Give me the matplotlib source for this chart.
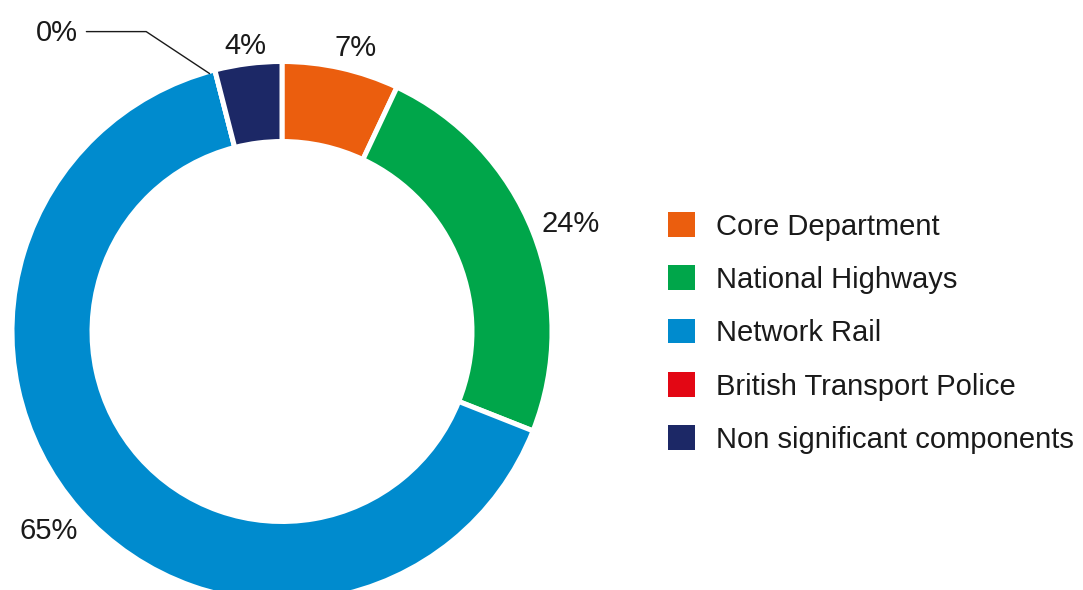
import matplotlib
matplotlib.use("Agg")
import matplotlib.pyplot as plt
from matplotlib.patches import Patch
import numpy as np

categories = ["Core Department", "National Highways", "Network Rail",
              "British Transport Police", "Non significant components"]
values = [7, 24, 65, 0, 4]
colors = ["#EB5E0E", "#00A64A", "#008BCE", "#E30714", "#1C2866"]

plt.rcParams['font.family'] = ['Liberation Sans', 'DejaVu Sans']
W, H = 1083, 590
fig = plt.figure(figsize=(W / 100, H / 100), dpi=100)
ax = fig.add_axes([0, 0, 1, 1])

cx, cy = 282, H - 331.5
R = 270
ring = 80
TXT = "#1a1a1a"

wedges, _, autotexts = ax.pie(
    values, colors=colors, startangle=90, counterclock=False,
    center=(cx, cy), radius=R,
    wedgeprops=dict(width=ring, edgecolor="white", linewidth=3.6),
    autopct=lambda p: f"{p:.0f}%" if p > 0.05 else "",
    pctdistance=1.12,
    textprops=dict(fontsize=21, color=TXT),
)

# place percentage labels just outside the ring, by wedge mid-angle
label_dist = [1.095, 1.145, 1.13, 1.10, 1.075]
label_rot = [-1.8, -0.8, -1.2, 0.0, 0.0]  # small angular nudges (deg)
for w, t, d, r in zip(wedges, autotexts, label_dist, label_rot):
    a = np.deg2rad((w.theta1 + w.theta2) / 2 + r)
    x = cx + d * R * np.cos(a)
    y = cy + d * R * np.sin(a)
    t.set_position((x, y - 10.6))
    t.set_va("baseline")
    t.set_ha("center")

ax.set_xlim(0, W)
ax.set_ylim(0, H)
ax.set_aspect("equal")
ax.axis("off")

# 0% annotation for the zero-size wedge
zw = wedges[3]
ang = np.deg2rad(zw.theta1 + 1.3)
tip = (cx + (R - 2) * np.cos(ang), cy + (R - 2) * np.sin(ang))
ax.annotate(f"{values[3]}%", xy=tip, xytext=(57, H - 33),
            ha="center", va="center", fontsize=21, color=TXT,
            arrowprops=dict(arrowstyle="-", color=TXT, lw=1.0,
                            shrinkA=0, shrinkB=0, relpos=(1.2, 0.55),
                            connectionstyle="angle,angleA=0,angleB=-33.5,rad=0"))

handles = [Patch(facecolor=c, edgecolor="none") for c in colors]
leg = ax.legend(handles, categories, loc="center left",
                bbox_to_anchor=(668 / W, (H - 333) / H),
                bbox_transform=fig.transFigure,
                frameon=False, fontsize=21, borderpad=0, borderaxespad=0,
                handlelength=0.925, handleheight=0.925, handletextpad=0.72,
                labelspacing=0.855)
for t in leg.get_texts():
    t.set_color(TXT)

fig.savefig("out.png", dpi=100)
